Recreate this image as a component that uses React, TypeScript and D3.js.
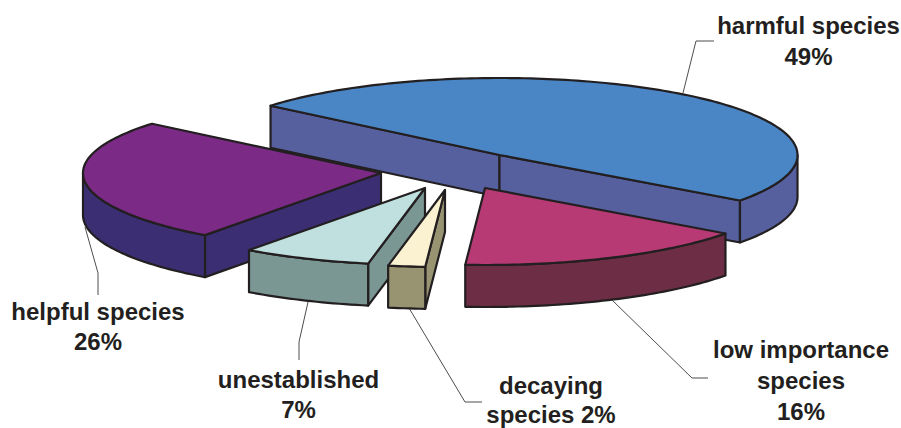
import React from "react";
import * as d3 from "d3";

// Share of species per group, in drawing order around the pie.
const groups = ["harmful", "low importance", "decaying", "unestablished", "helpful"];
const shares = [49, 16, 2, 7, 26];

// Colours of the top faces and of the side walls.
const topColors = ["#4a86c6", "#b73a75", "#faf2d0", "#c0e0df", "#7b2a85"];
const wallColors = ["#56609f", "#6d2d45", "#989472", "#7b9794", "#3b2e73"];

// How far each wedge is pulled out of the pie.
const explodeX = [0, -14.5, -54.5, -74.5, -118.5];
const explodeY = [0, 33, 35, 33, 18];

// Back-to-front painting order (indices into groups).
const paintOrder = [0, 4, 3, 2, 1];

const labels = [
  { lines: ["harmful species", "49%"], x: 808.5, y: [34, 65] },
  { lines: ["low importance", "species", "16%"], x: 801, y: [358, 389, 420] },
  { lines: ["decaying", "species 2%"], x: 551, y: [394, 423] },
  { lines: ["unestablished", "7%"], x: 298.5, y: [388, 418] },
  { lines: ["helpful species", "26%"], x: 98, y: [320, 350] },
];

const leaders: [number, number][][] = [
  [[683, 93], [696, 41], [714, 41]],
  [[612, 300], [692, 378], [708, 378]],
  [[409, 308], [465, 402], [482, 402]],
  [[308, 302], [299, 342], [299, 360]],
  [[85, 227], [98, 273], [98, 295]],
];

const WIDTH = 901;
const HEIGHT = 428;
const CX = 499.5;
const CY = 155;
const RX = 298;
const RY = 77;
const DEPTH = 42;
const INK = "#231f20";
const FIRST_ANGLE = (309.8 * Math.PI) / 180;

const scaleX = d3.scaleLinear().domain([-1, 1]).range([-RX, RX]);
const scaleY = d3.scaleLinear().domain([-1, 1]).range([-RY, RY]);
const pie = d3
  .pie<number>()
  .sort(null)
  .startAngle(FIRST_ANGLE)
  .endAngle(FIRST_ANGLE + 2 * Math.PI);
const polyline = d3.line();
const leaderLine = d3.line();

// Pie angles run clockwise from twelve o'clock.
const rim = (a: number, ox: number, oy: number, drop = 0): [number, number] => [
  CX + ox + scaleX(Math.sin(a)),
  CY + oy + scaleY(-Math.cos(a)) + drop,
];

const sampleArc = (a0: number, a1: number, ox: number, oy: number, drop = 0) => {
  const n = Math.max(2, Math.ceil(Math.abs(a1 - a0) / 0.02));
  return d3.range(n + 1).map((i) => rim(a0 + ((a1 - a0) * i) / n, ox, oy, drop));
};

// Parts of the rim facing the viewer lie between 90 and 270 degrees of pie angle.
const frontRanges = (a0: number, a1: number): [number, number][] => {
  const out: [number, number][] = [];
  for (let k = 0; k < 3; k++) {
    const lo = Math.max(a0, Math.PI / 2 + 2 * Math.PI * k);
    const hi = Math.min(a1, (3 * Math.PI) / 2 + 2 * Math.PI * k);
    if (hi > lo) out.push([lo, hi]);
  }
  return out;
};

function Wedge({ index, a0, a1 }: { index: number; a0: number; a1: number }) {
  const ox = explodeX[index];
  const oy = explodeY[index];
  const apex: [number, number] = [CX + ox, CY + oy];
  const apexLow: [number, number] = [apex[0], apex[1] + DEPTH];

  // A cut face shows only when its outward normal points toward the viewer.
  const cutWalls: [number, number][][] = [];
  if (-Math.sin(a0) > 0) {
    cutWalls.push([apex, rim(a0, ox, oy), rim(a0, ox, oy, DEPTH), apexLow]);
  }
  if (Math.sin(a1) > 0) {
    cutWalls.push([apex, rim(a1, ox, oy), rim(a1, ox, oy, DEPTH), apexLow]);
  }

  const outerWalls = frontRanges(a0, a1).map(([lo, hi]) => [
    ...sampleArc(lo, hi, ox, oy),
    ...sampleArc(hi, lo, ox, oy, DEPTH),
  ]);

  const top = [apex, ...sampleArc(a0, a1, ox, oy)];
  const style = { stroke: INK, strokeWidth: 2.2, strokeLinejoin: "round" as const };

  return (
    <g>
      {cutWalls.map((pts, i) => (
        <path key={i} d={polyline(pts) + "Z"} fill={wallColors[index]} {...style} />
      ))}
      {outerWalls.map((pts, i) => (
        <path key={i} d={polyline(pts as [number, number][]) + "Z"} fill={wallColors[index]} {...style} />
      ))}
      <path d={polyline(top) + "Z"} fill={topColors[index]} {...style} />
    </g>
  );
}

export default function App() {
  const arcs = pie(shares);
  return (
    <svg
      width={WIDTH}
      height={HEIGHT}
      style={{ position: "absolute", left: 0, top: 0, background: "#fff" }}
      fontFamily="'Liberation Sans', Arial, sans-serif"
    >
      {leaders.map((pts, i) => (
        <path key={groups[i]} d={leaderLine(pts)!} fill="none" stroke="#4d4d4f" strokeWidth={1} />
      ))}
      {paintOrder.map((i) => (
        <Wedge key={groups[i]} index={i} a0={arcs[i].startAngle} a1={arcs[i].endAngle} />
      ))}
      {labels.map((l) =>
        l.lines.map((t, j) => (
          <text key={t} x={l.x} y={l.y[j]} textAnchor="middle" fontSize={24} fontWeight={700} fill={INK}>
            {t}
          </text>
        ))
      )}
    </svg>
  );
}
